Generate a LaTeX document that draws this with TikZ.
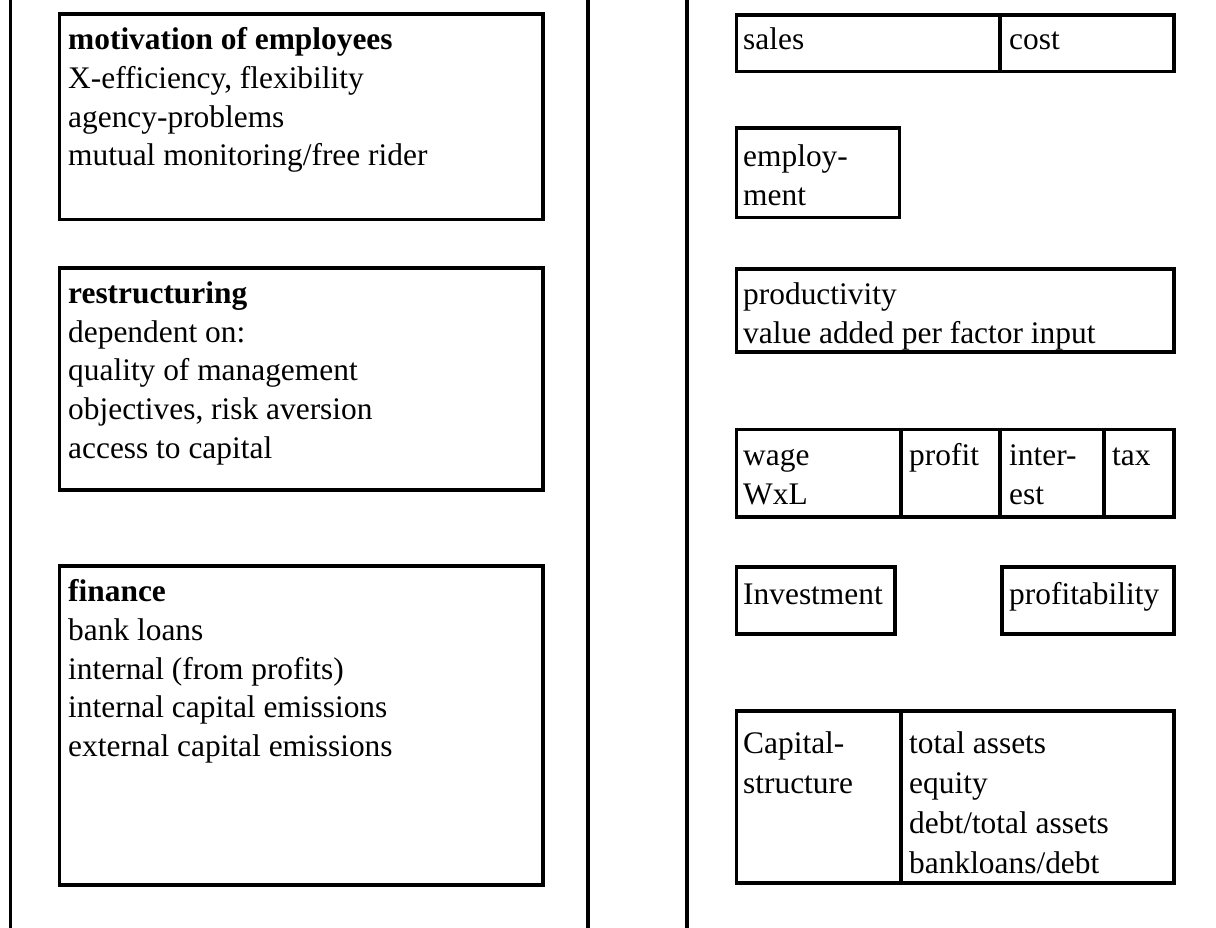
\documentclass[tikz,border=0pt]{standalone}
\usepackage{fontspec}
\setmainfont{Liberation Serif}
\newcommand\myfs{\fontsize{31.4}{38}\selectfont}
\begin{document}
\begin{tikzpicture}[x=1pt,y=-1pt,
  rule/.style={line width=3.5pt},
  box/.style={draw, line width=3.5pt, rectangle, inner sep=0pt, anchor=north west},
  txt/.style={anchor=base west, inner sep=0pt, font=\myfs},
  hd/.style={txt, font=\myfs\bfseries}]
\useasboundingbox (0,0) rectangle (1216,928);
% vertical rules
\coordinate (v1t) at (10.5,0); \coordinate (v1b) at (10.5,928);
\coordinate (v2t) at (588,0); \coordinate (v2b) at (588,928);
\coordinate (v3t) at (687,0); \coordinate (v3b) at (687,928);
\draw[rule] (v1t) -- (v1b);
\draw[rule] (v2t) -- (v2b);
\draw[rule] (v3t) -- (v3b);
% left boxes
\node[box, minimum width=483.5pt, minimum height=205.5pt] (b1) at (57.5,12.5) {};
\node[box, minimum width=483.5pt, minimum height=221.5pt] (b2) at (57.5,266.5) {};
\node[box, minimum width=483.5pt, minimum height=319pt] (b3) at (57.5,564) {};
\node[hd] (t11) at (68,50) {motivation of employees};
\node[txt] (t12) at (68,89) {X-efficiency, flexibility};
\node[txt] (t13) at (68,128) {agency-problems};
\node[txt] (t14) at (68,166) {mutual monitoring/free rider};
\node[hd] (t21) at (68,303) {restructuring};
\node[txt] (t22) at (68,342) {dependent on:};
\node[txt] (t23) at (68,380) {quality of management};
\node[txt] (t24) at (68,419) {objectives, risk aversion};
\node[txt] (t25) at (68,458) {access to capital};
\node[hd] (t31) at (68,601) {finance};
\node[txt] (t32) at (68,640) {bank loans};
\node[txt] (t33) at (68,679) {internal (from profits)};
\node[txt] (t34) at (68,717) {internal capital emissions};
\node[txt] (t35) at (68,756) {external capital emissions};
% right boxes
\node[box, minimum width=437.5pt, minimum height=56.5pt] (r1) at (734.5,13.5) {};
\draw[rule] (r1.north -| 1000,0) -- (r1.south -| 1000,0);
\node[txt] (sales) at (743,50) {sales};
\node[txt] (cost) at (1009,50) {cost};
\node[box, minimum width=163pt, minimum height=89.5pt] (r2) at (734.5,126.5) {};
\node[txt] (emp1) at (743,167) {employ-};
\node[txt] (emp2) at (743,206) {ment};
\node[box, minimum width=437.5pt, minimum height=82.5pt] (r3) at (734.5,267.5) {};
\node[txt] (prod1) at (743,305) {productivity};
\node[txt] (prod2) at (743,343) {value added per factor input};
\node[box, minimum width=437.5pt, minimum height=87.5pt] (r4) at (734.5,427.5) {};
\draw[rule] (r4.north -| 901,0) -- (r4.south -| 901,0);
\draw[rule] (r4.north -| 1000,0) -- (r4.south -| 1000,0);
\draw[rule] (r4.north -| 1104,0) -- (r4.south -| 1104,0);
\node[txt] (wage) at (743,465) {wage};
\node[txt] (wxl) at (743,504) {WxL};
\node[txt] (profit) at (909,465) {profit};
\node[txt] (int1) at (1009,465) {inter-};
\node[txt] (int2) at (1009,504) {est};
\node[txt] (tax) at (1112,465) {tax};
\node[box, minimum width=158.5pt, minimum height=67pt] (r5) at (734.5,565) {};
\node[txt] (inv) at (743,604) {Investment};
\node[box, minimum width=172pt, minimum height=67pt] (r6) at (1000,565) {};
\node[txt] (pfb) at (1009,604) {profitability};
\node[box, minimum width=437.5pt, minimum height=172pt] (r7) at (734.5,709) {};
\draw[rule] (r7.north -| 901,0) -- (r7.south -| 901,0);
\node[txt] (cap1) at (743,753) {Capital-};
\node[txt] (cap2) at (743,793) {structure};
\node[txt] (ta) at (909,753) {total assets};
\node[txt] (eq) at (909,793) {equity};
\node[txt] (dta) at (909,833) {debt/total assets};
\node[txt] (bld) at (909,873) {bankloans/debt};
\end{tikzpicture}
\end{document}
